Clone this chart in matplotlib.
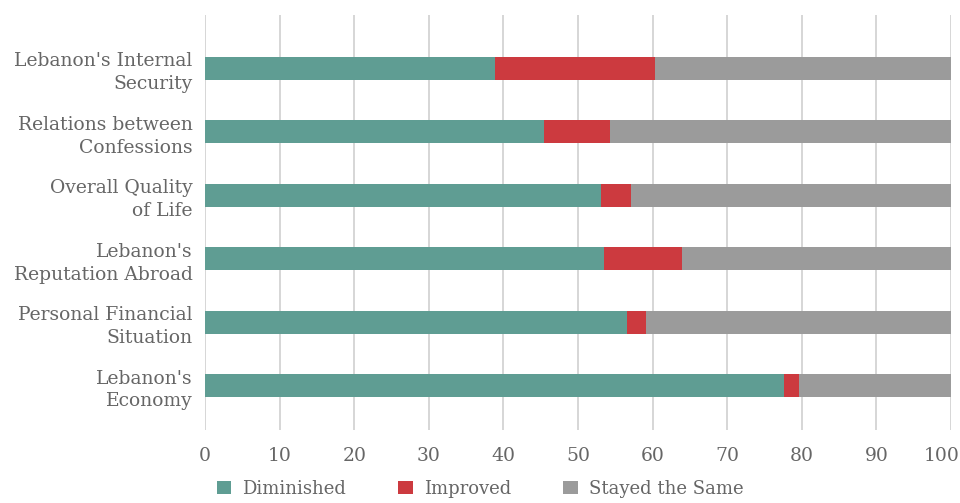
import matplotlib
matplotlib.use('Agg')
import matplotlib.pyplot as plt
import matplotlib.transforms as mtransforms
import numpy as np

# categories listed bottom to top
categories = ["Lebanon's\nEconomy",
              "Personal Financial\nSituation",
              "Lebanon's\nReputation Abroad",
              "Overall Quality\nof Life",
              "Relations between\nConfessions",
              "Lebanon's Internal\nSecurity"]
diminished = [77.6, 56.6, 53.5, 53.1, 45.4, 38.9]
improved = [2.0, 2.5, 10.4, 4.0, 8.9, 21.4]
stayed = [20.4, 40.9, 36.1, 42.9, 45.7, 39.7]
series_names = ['Diminished', 'Improved', 'Stayed the Same']
colors = ['#5f9d93', '#cc3a3f', '#9b9b9b']
xticks = list(range(0, 101, 10))

plt.rcParams['font.family'] = ['DejaVu Serif']
text_color = '#666666'

fig = plt.figure(figsize=(9.6, 5.03), dpi=100)
ax = fig.add_axes([205 / 960, 1 - 430 / 503, 746 / 960, 415 / 503])

y = np.arange(len(categories))
left = np.zeros(len(categories))
for vals, name, col in zip([diminished, improved, stayed], series_names, colors):
    ax.barh(y, vals, left=left, height=0.363, color=col, label=name, zorder=3)
    left += np.array(vals)

ax.set_xlim(0, 100)
ax.set_ylim(-0.70, 5.84)
ax.set_xticks(xticks)
ax.set_yticks(y)
ax.set_yticklabels(categories, fontsize=13.5, color=text_color,
                   linespacing=1.35)
ax.tick_params(axis='x', length=0, pad=12, labelsize=13.5, labelcolor=text_color)
ax.tick_params(axis='y', length=0, pad=9)
ax.grid(axis='x', color='#d0d0d0', linewidth=1.2, zorder=0)
for s in ax.spines.values():
    s.set_visible(False)

# nudge the last tick label so it stays inside the figure
last = ax.get_xticklabels()[-1]
last.set_transform(last.get_transform() +
                   mtransforms.ScaledTranslation(-9 / 100, 0, fig.dpi_scale_trans))

fig.legend(loc='lower center', bbox_to_anchor=(0.5, -0.022), ncol=3,
           frameon=False, fontsize=13, labelcolor=text_color,
           handlelength=0.8, handleheight=0.8, columnspacing=2.9,
           handletextpad=0.6)

fig.savefig('out.png', dpi=100)
